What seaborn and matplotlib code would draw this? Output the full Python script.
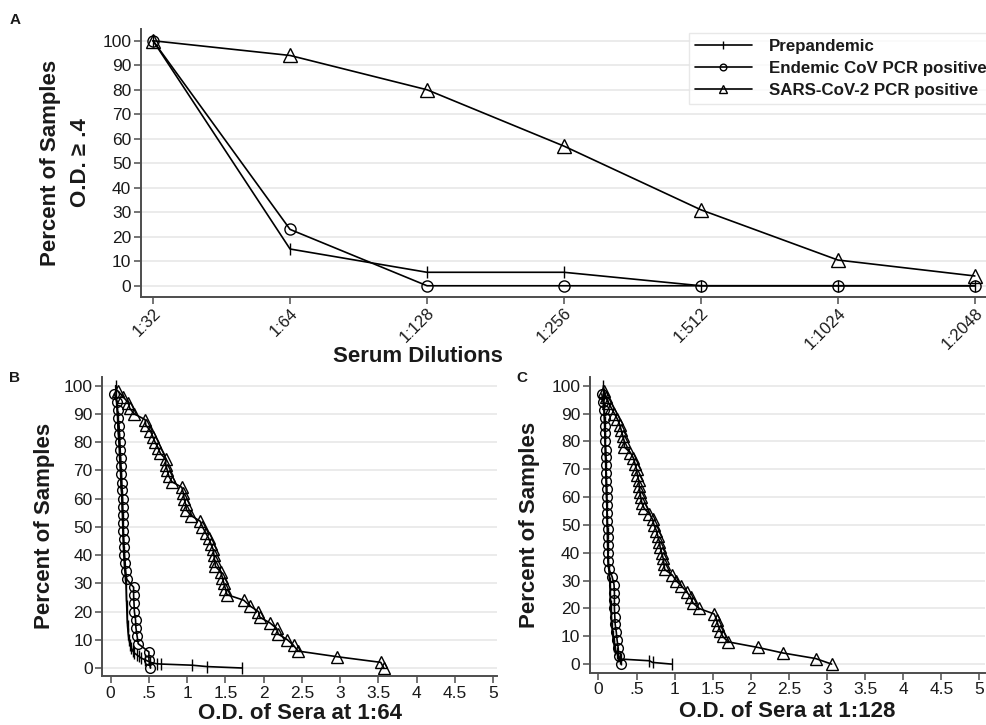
import numpy as np
import pandas as pd
import matplotlib
matplotlib.use("Agg")
import matplotlib.pyplot as plt
import seaborn as sns

# --- series names / markers ---
GROUPS = ['Prepandemic', 'Endemic CoV PCR positive', 'SARS-CoV-2 PCR positive']
MARKERS = {GROUPS[0]: '|', GROUPS[1]: 'o', GROUPS[2]: '^'}

# --- panel A: percent of samples with O.D. >= .4 per dilution ---
dilutions = ['1:32', '1:64', '1:128', '1:256', '1:512', '1:1024', '1:2048']
a_prepandemic = [100, 15, 5.5, 5.5, 0, 0, 0]
a_endemic = [100, 23, 0, 0, 0, 0, 0]
a_sars = [100, 94, 80, 57, 31, 10.5, 4]

# --- panels B/C: percent of samples above each O.D. ---
endemic_pct = [97.1, 94.3, 91.4, 88.6, 85.7, 82.9, 80.0, 77.1, 74.3, 71.4, 68.6, 65.7,
               62.9, 60.0, 57.1, 54.3, 51.4, 48.6, 45.7, 42.9, 40.0, 37.1, 34.3, 31.4,
               28.6, 25.7, 22.9, 20.0, 17.1, 14.3, 11.4, 8.6, 5.7, 2.9, 0.0]
sars_pct = [98, 96, 94, 92, 90, 88, 86, 84, 82, 80, 78, 76, 74, 72, 70, 68, 66, 64, 62, 60,
            58, 56, 54, 52, 50, 48, 46, 44, 42, 40, 38, 36, 34, 32, 30, 28, 26, 24, 22, 20,
            18, 16, 14, 12, 10, 8, 6, 4, 2, 0]

# 1:64
b_endemic_od = [0.05, 0.08, 0.09, 0.095, 0.11, 0.115, 0.12, 0.125, 0.13, 0.135, 0.14, 0.145,
                0.15, 0.155, 0.157, 0.16, 0.162, 0.165, 0.17, 0.175, 0.18, 0.19, 0.195, 0.21,
                0.30, 0.30, 0.305, 0.31, 0.325, 0.33, 0.345, 0.36, 0.50, 0.50, 0.52]
b_sars_od = [0.10, 0.165, 0.23, 0.25, 0.31, 0.45, 0.46, 0.52, 0.55, 0.58, 0.62, 0.65, 0.72,
             0.72, 0.74, 0.76, 0.80, 0.93, 0.95, 0.96, 0.98, 0.99, 1.05, 1.17, 1.20, 1.24,
             1.28, 1.31, 1.34, 1.35, 1.36, 1.37, 1.44, 1.46, 1.48, 1.50, 1.52, 1.74, 1.82,
             1.93, 1.95, 2.08, 2.17, 2.19, 2.31, 2.39, 2.45, 2.96, 3.53, 3.57]
b_pre_od = [0.065, 0.07, 0.08, 0.09, 0.095, 0.105, 0.115, 0.12, 0.13, 0.135, 0.145, 0.15,
            0.155, 0.16, 0.165, 0.17, 0.18, 0.19, 0.20, 0.205, 0.21, 0.215, 0.22, 0.23,
            0.24, 0.255, 0.27, 0.29, 0.31, 0.34, 0.37, 0.40, 0.45, 0.52, 0.60, 0.66, 1.06,
            1.26, 1.72]
b_pre_pct = [100, 97, 93, 89, 85, 81, 77, 73, 69, 65, 61, 57, 53, 49, 45, 41, 37, 33, 30,
             26, 22, 18, 15, 12, 10, 8.2, 7.1, 6.0, 5.3, 4.7, 4.1, 3.5, 2.9, 2.0, 1.5, 1.4,
             1.0, 0.5, 0]

# 1:128
c_endemic_od = [0.045, 0.06, 0.075, 0.08, 0.085, 0.09, 0.09, 0.095, 0.10, 0.10, 0.10, 0.105,
                0.11, 0.11, 0.11, 0.115, 0.115, 0.12, 0.12, 0.12, 0.125, 0.125, 0.135, 0.18,
                0.205, 0.21, 0.21, 0.21, 0.215, 0.22, 0.235, 0.245, 0.26, 0.265, 0.30]
c_sars_od = [0.07, 0.10, 0.13, 0.17, 0.21, 0.25, 0.28, 0.30, 0.32, 0.34, 0.34, 0.42, 0.46,
             0.48, 0.50, 0.51, 0.53, 0.535, 0.545, 0.555, 0.57, 0.60, 0.67, 0.71, 0.73, 0.76,
             0.78, 0.80, 0.81, 0.83, 0.85, 0.86, 0.87, 0.97, 1.02, 1.09, 1.16, 1.21, 1.24,
             1.32, 1.52, 1.55, 1.57, 1.60, 1.63, 1.70, 2.09, 2.42, 2.85, 3.06]
c_pre_od = [0.065, 0.07, 0.075, 0.08, 0.085, 0.09, 0.095, 0.10, 0.105, 0.11, 0.115, 0.12,
            0.125, 0.13, 0.14, 0.15, 0.155, 0.16, 0.17, 0.18, 0.19, 0.20, 0.21, 0.22, 0.24,
            0.26, 0.28, 0.30, 0.67, 0.71, 0.96]
c_pre_pct = [100, 97, 92, 87, 82, 77, 72, 67, 62, 57, 52, 47, 42, 37, 33, 29, 25, 21, 17,
             13, 10, 8, 6.5, 5.3, 4.1, 2.9, 2.3, 1.8, 1.2, 0.6, 0]

FONT = ['Liberation Sans', 'DejaVu Sans']
INK = '#1a1a1a'
AXIS = '#4d4d4d'
TITLE_FS = 16
TICK_FS = 12.5


def draw(ax, xs, ys, sizes):
    # one seaborn call per series: '|' can't share a style mapping with filled markers
    for g, x, y in zip(GROUPS, xs, ys):
        df = pd.DataFrame({'x': x, 'y': y})
        sns.lineplot(data=df, x='x', y='y', sort=False, estimator=None, ax=ax,
                     color='black', lw=1.2, marker=MARKERS[g], ms=sizes[g],
                     mec='black', mfc='none', mew=1.0, label=g, legend=False)


def style_axes(ax, fs):
    ax.grid(axis='y', color='#e8e8e8', lw=1.2)
    ax.grid(axis='x', visible=False)
    ax.set_axisbelow(True)
    for s in ['top', 'right']:
        ax.spines[s].set_visible(False)
    for s in ['left', 'bottom']:
        ax.spines[s].set_color(AXIS)
        ax.spines[s].set_linewidth(1.4)
    ax.tick_params(direction='out', length=5, width=1.1, color=AXIS, labelsize=fs, pad=2,
                   left=True, bottom=True, labelcolor=INK)
    ax.set_yticks(range(0, 101, 10))


sns.set_theme(style='white')
plt.rcParams['font.family'] = FONT

fig = plt.figure(figsize=(9.87, 7.25), dpi=100)

# ---------------- panel A ----------------
axA = fig.add_axes([0.1429, 0.5903, 0.857, 0.3697])
xi = list(range(len(dilutions)))
draw(axA, [xi, xi, xi], [a_prepandemic, a_endemic, a_sars],
     {GROUPS[0]: 9, GROUPS[1]: 8, GROUPS[2]: 10})
style_axes(axA, TICK_FS)
axA.set_xlim(-0.088, 6.088)
axA.set_ylim(-4.6, 104.8)
axA.set_xticks(xi)
axA.set_xticklabels(dilutions, rotation=45, ha='right', rotation_mode='anchor', fontsize=12)
axA.tick_params(axis='x', pad=1)
axA.set_ylabel('Percent of Samples\nO.D. \u2265 .4', fontsize=TITLE_FS, fontweight='bold',
               color=INK, linespacing=1.6)
axA.yaxis.set_label_coords(-0.059, 0.5)
axA.set_xlabel('Serum Dilutions', fontsize=TITLE_FS, fontweight='bold', color=INK)
axA.xaxis.set_label_coords(0.327, -0.183)
leg = axA.legend(axA.lines[:3], GROUPS, loc='upper right', bbox_to_anchor=(1.007, 0.985),
                 borderaxespad=0, frameon=True, fancybox=False, edgecolor='#e3e3e3',
                 handlelength=3.4, markerscale=0.6, labelspacing=0.42, handletextpad=1.0,
                 borderpad=0.35, prop={'family': FONT, 'weight': 'bold', 'size': 12.2})
for t in leg.get_texts():
    t.set_color(INK)

# ---------------- panels B and C ----------------
xt = [0, 0.5, 1, 1.5, 2, 2.5, 3, 3.5, 4, 4.5, 5]
xt_labels = ['0', '.5', '1', '1.5', '2', '2.5', '3', '3.5', '4', '4.5', '5']
small = {GROUPS[0]: 8, GROUPS[1]: 7, GROUPS[2]: 8.5}

axB = fig.add_axes([0.1036, 0.0676, 0.400, 0.4128])
draw(axB, [b_pre_od, b_endemic_od, b_sars_od], [b_pre_pct, endemic_pct, sars_pct], small)
style_axes(axB, TICK_FS)
axB.set_xlim(-0.11, 5.05)
axB.set_ylim(-2.83, 103.2)
axB.set_xticks(xt)
axB.set_xticklabels(xt_labels)
axB.set_ylabel('Percent of Samples', fontsize=TITLE_FS, fontweight='bold', color=INK)
axB.yaxis.set_label_coords(-0.12, 0.5)
axB.set_xlabel('O.D. of Sera at 1:64', fontsize=TITLE_FS, fontweight='bold', color=INK)
axB.xaxis.set_label_coords(0.5, -0.09)

axC = fig.add_axes([0.5978, 0.0721, 0.400, 0.408])
draw(axC, [c_pre_od, c_endemic_od, c_sars_od], [c_pre_pct, endemic_pct, sars_pct], small)
style_axes(axC, TICK_FS)
axC.set_xlim(-0.11, 5.07)
axC.set_ylim(-3.1, 103.2)
axC.set_xticks(xt)
axC.set_xticklabels(xt_labels)
axC.set_ylabel('Percent of Samples', fontsize=TITLE_FS, fontweight='bold', color=INK)
axC.yaxis.set_label_coords(-0.127, 0.5)
axC.set_xlabel('O.D. of Sera at 1:128', fontsize=TITLE_FS, fontweight='bold', color=INK)
axC.xaxis.set_label_coords(0.5, -0.097)

# panel letters
for lab, x, y in [('A', 15, 20), ('B', 15, 378), ('C', 522, 378)]:
    fig.text(x / 987, 1 - y / 725, lab, fontsize=11, fontweight='bold', color=INK,
             ha='center', va='center')

fig.savefig('out.png', dpi=100)
